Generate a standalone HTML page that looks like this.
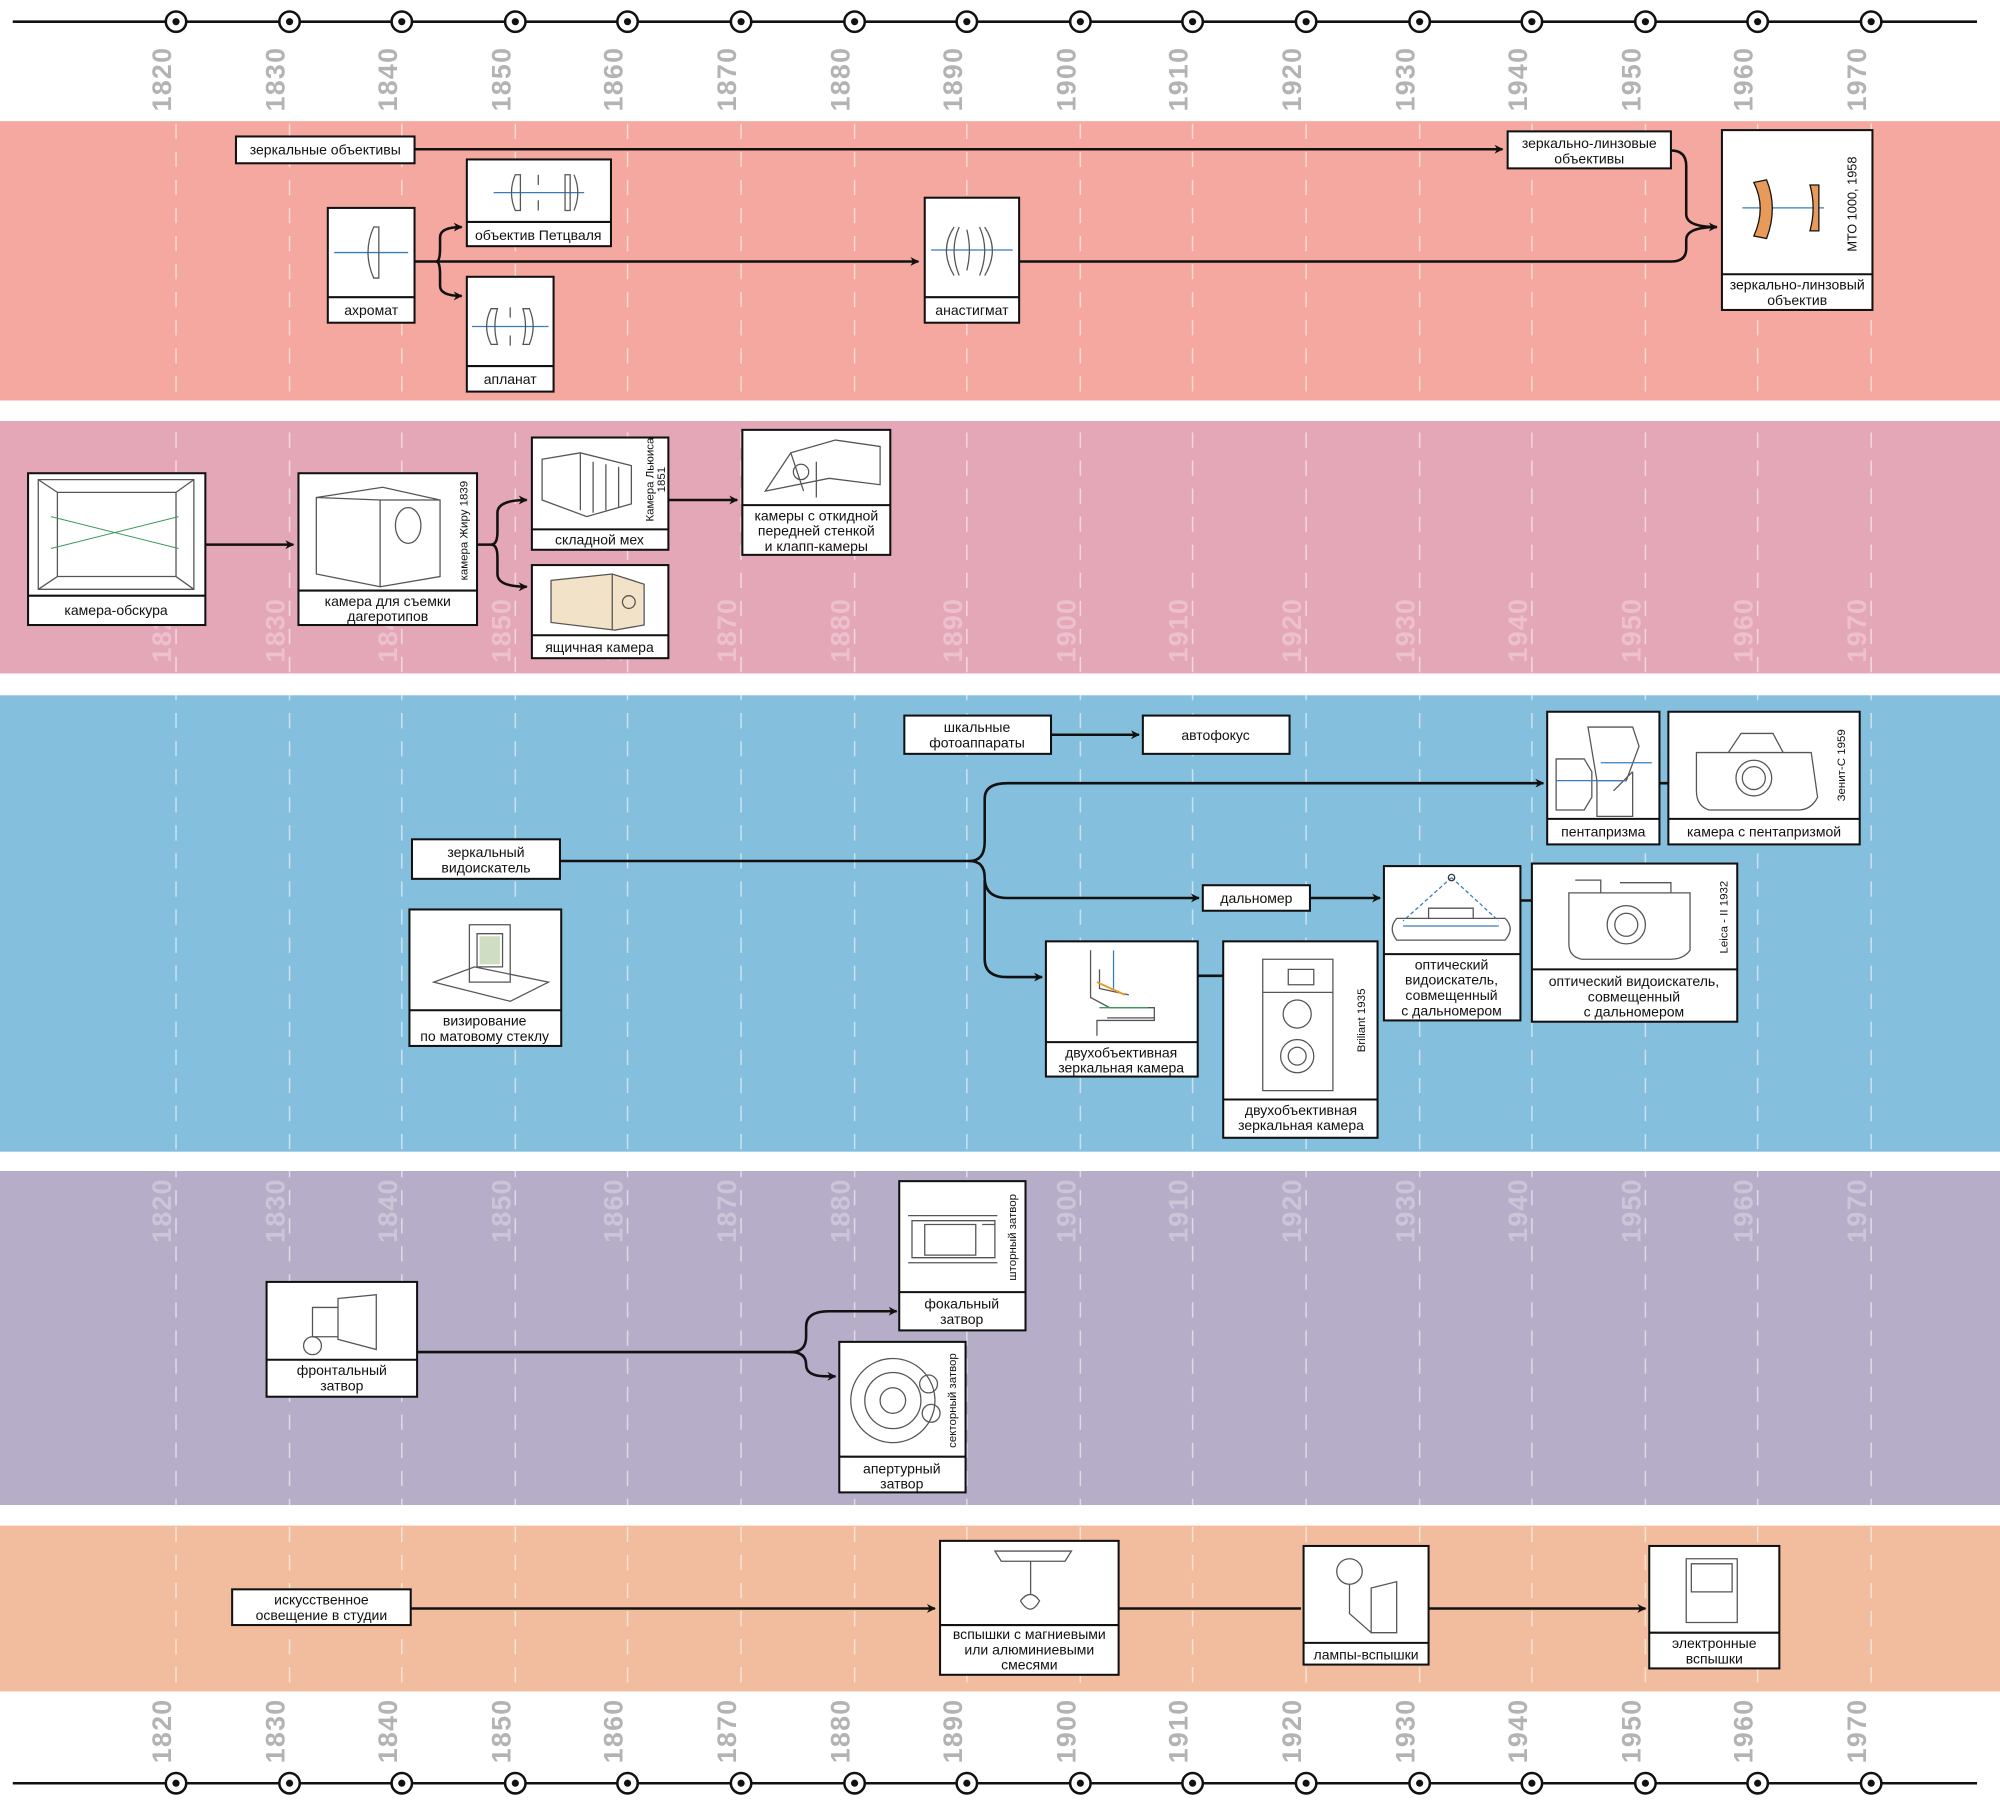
<!DOCTYPE html>
<html><head><meta charset="utf-8"><style>
html,body{margin:0;padding:0;background:#fff}
svg{display:block}
.t{font-family:"Liberation Sans","DejaVu Sans",sans-serif;font-size:11px;fill:#111;text-anchor:middle}
.y{font-family:"Liberation Sans",sans-serif;font-size:21px;font-weight:bold;letter-spacing:1px;text-anchor:middle;dominant-baseline:central}
.g{fill:#b3b3b3}.w{fill:#fff;fill-opacity:.3}
.n{fill:#fff;stroke:#111;stroke-width:1.6}
.l{stroke:#111;stroke-width:1.6;fill:none}
.c{stroke:#111;stroke-width:2;fill:none}
.d{stroke:#555;stroke-width:1;fill:none}
.b{stroke:#3a7bbf;stroke-width:1;fill:none}
.v{font-family:"Liberation Sans",sans-serif;font-size:10px;fill:#111;text-anchor:middle;dominant-baseline:central}
</style></head><body>
<svg width="2000" height="1810" viewBox="0 0 1568 1419" preserveAspectRatio="none" xmlns="http://www.w3.org/2000/svg">
<defs><marker id="a" viewBox="0 0 10 10" refX="9" refY="5" markerWidth="7" markerHeight="7" orient="auto" markerUnits="userSpaceOnUse"><path d="M0,0 L10,5 L0,10 L3,5 z" fill="#111"/></marker></defs>
<!-- bands -->
<rect x="0" y="95" width="1568" height="219" fill="#f4a8a0"/>
<rect x="0" y="330" width="1568" height="198" fill="#e4a7b8"/>
<rect x="0" y="545" width="1568" height="358" fill="#85bfde"/>
<rect x="0" y="918" width="1568" height="262" fill="#b6adc8"/>
<rect x="0" y="1196" width="1568" height="130" fill="#f2bd9e"/>
<g stroke="#fff" stroke-opacity=".55" stroke-width="1.2" stroke-dasharray="12,10">
<line x1="138" y1="97" x2="138" y2="1326"/><line x1="227" y1="97" x2="227" y2="1326"/><line x1="315" y1="97" x2="315" y2="1326"/><line x1="404" y1="97" x2="404" y2="1326"/><line x1="492" y1="97" x2="492" y2="1326"/><line x1="581" y1="97" x2="581" y2="1326"/><line x1="670" y1="97" x2="670" y2="1326"/><line x1="758" y1="97" x2="758" y2="1326"/><line x1="847" y1="97" x2="847" y2="1326"/><line x1="935" y1="97" x2="935" y2="1326"/><line x1="1024" y1="97" x2="1024" y2="1326"/><line x1="1113" y1="97" x2="1113" y2="1326"/><line x1="1201" y1="97" x2="1201" y2="1326"/><line x1="1290" y1="97" x2="1290" y2="1326"/><line x1="1378" y1="97" x2="1378" y2="1326"/><line x1="1467" y1="97" x2="1467" y2="1326"/>
</g>
<rect x="0" y="314" width="1568" height="16" fill="#fff"/>
<rect x="0" y="528" width="1568" height="17" fill="#fff"/>
<rect x="0" y="903" width="1568" height="15" fill="#fff"/>
<rect x="0" y="1180" width="1568" height="16" fill="#fff"/>
<!-- timelines -->
<line x1="10" y1="17" x2="1550" y2="17" stroke="#111" stroke-width="2"/>
<line x1="10" y1="1398" x2="1550" y2="1398" stroke="#111" stroke-width="2"/>
<g fill="#fff" stroke="#111" stroke-width="2">
<circle cx="138" cy="17" r="8"/><circle cx="227" cy="17" r="8"/><circle cx="315" cy="17" r="8"/><circle cx="404" cy="17" r="8"/><circle cx="492" cy="17" r="8"/><circle cx="581" cy="17" r="8"/><circle cx="670" cy="17" r="8"/><circle cx="758" cy="17" r="8"/><circle cx="847" cy="17" r="8"/><circle cx="935" cy="17" r="8"/><circle cx="1024" cy="17" r="8"/><circle cx="1113" cy="17" r="8"/><circle cx="1201" cy="17" r="8"/><circle cx="1290" cy="17" r="8"/><circle cx="1378" cy="17" r="8"/><circle cx="1467" cy="17" r="8"/>
<circle cx="138" cy="1398" r="8"/><circle cx="227" cy="1398" r="8"/><circle cx="315" cy="1398" r="8"/><circle cx="404" cy="1398" r="8"/><circle cx="492" cy="1398" r="8"/><circle cx="581" cy="1398" r="8"/><circle cx="670" cy="1398" r="8"/><circle cx="758" cy="1398" r="8"/><circle cx="847" cy="1398" r="8"/><circle cx="935" cy="1398" r="8"/><circle cx="1024" cy="1398" r="8"/><circle cx="1113" cy="1398" r="8"/><circle cx="1201" cy="1398" r="8"/><circle cx="1290" cy="1398" r="8"/><circle cx="1378" cy="1398" r="8"/><circle cx="1467" cy="1398" r="8"/>
</g>
<g fill="#111">
<circle cx="138" cy="17" r="2.8"/><circle cx="227" cy="17" r="2.8"/><circle cx="315" cy="17" r="2.8"/><circle cx="404" cy="17" r="2.8"/><circle cx="492" cy="17" r="2.8"/><circle cx="581" cy="17" r="2.8"/><circle cx="670" cy="17" r="2.8"/><circle cx="758" cy="17" r="2.8"/><circle cx="847" cy="17" r="2.8"/><circle cx="935" cy="17" r="2.8"/><circle cx="1024" cy="17" r="2.8"/><circle cx="1113" cy="17" r="2.8"/><circle cx="1201" cy="17" r="2.8"/><circle cx="1290" cy="17" r="2.8"/><circle cx="1378" cy="17" r="2.8"/><circle cx="1467" cy="17" r="2.8"/>
<circle cx="138" cy="1398" r="2.8"/><circle cx="227" cy="1398" r="2.8"/><circle cx="315" cy="1398" r="2.8"/><circle cx="404" cy="1398" r="2.8"/><circle cx="492" cy="1398" r="2.8"/><circle cx="581" cy="1398" r="2.8"/><circle cx="670" cy="1398" r="2.8"/><circle cx="758" cy="1398" r="2.8"/><circle cx="847" cy="1398" r="2.8"/><circle cx="935" cy="1398" r="2.8"/><circle cx="1024" cy="1398" r="2.8"/><circle cx="1113" cy="1398" r="2.8"/><circle cx="1201" cy="1398" r="2.8"/><circle cx="1290" cy="1398" r="2.8"/><circle cx="1378" cy="1398" r="2.8"/><circle cx="1467" cy="1398" r="2.8"/>
</g>
<!-- year labels -->
<g class="y g">
<text transform="translate(127,62) rotate(-90)">1820</text><text transform="translate(216,62) rotate(-90)">1830</text><text transform="translate(304,62) rotate(-90)">1840</text><text transform="translate(393,62) rotate(-90)">1850</text><text transform="translate(481,62) rotate(-90)">1860</text><text transform="translate(570,62) rotate(-90)">1870</text><text transform="translate(659,62) rotate(-90)">1880</text><text transform="translate(747,62) rotate(-90)">1890</text><text transform="translate(836,62) rotate(-90)">1900</text><text transform="translate(924,62) rotate(-90)">1910</text><text transform="translate(1013,62) rotate(-90)">1920</text><text transform="translate(1102,62) rotate(-90)">1930</text><text transform="translate(1190,62) rotate(-90)">1940</text><text transform="translate(1279,62) rotate(-90)">1950</text><text transform="translate(1367,62) rotate(-90)">1960</text><text transform="translate(1456,62) rotate(-90)">1970</text>
<text transform="translate(127,1357) rotate(-90)">1820</text><text transform="translate(216,1357) rotate(-90)">1830</text><text transform="translate(304,1357) rotate(-90)">1840</text><text transform="translate(393,1357) rotate(-90)">1850</text><text transform="translate(481,1357) rotate(-90)">1860</text><text transform="translate(570,1357) rotate(-90)">1870</text><text transform="translate(659,1357) rotate(-90)">1880</text><text transform="translate(747,1357) rotate(-90)">1890</text><text transform="translate(836,1357) rotate(-90)">1900</text><text transform="translate(924,1357) rotate(-90)">1910</text><text transform="translate(1013,1357) rotate(-90)">1920</text><text transform="translate(1102,1357) rotate(-90)">1930</text><text transform="translate(1190,1357) rotate(-90)">1940</text><text transform="translate(1279,1357) rotate(-90)">1950</text><text transform="translate(1367,1357) rotate(-90)">1960</text><text transform="translate(1456,1357) rotate(-90)">1970</text>
</g>
<g class="y w">
<text transform="translate(127,494) rotate(-90)">1820</text><text transform="translate(216,494) rotate(-90)">1830</text><text transform="translate(304,494) rotate(-90)">1840</text><text transform="translate(393,494) rotate(-90)">1850</text><text transform="translate(481,494) rotate(-90)">1860</text><text transform="translate(570,494) rotate(-90)">1870</text><text transform="translate(659,494) rotate(-90)">1880</text><text transform="translate(747,494) rotate(-90)">1890</text><text transform="translate(836,494) rotate(-90)">1900</text><text transform="translate(924,494) rotate(-90)">1910</text><text transform="translate(1013,494) rotate(-90)">1920</text><text transform="translate(1102,494) rotate(-90)">1930</text><text transform="translate(1190,494) rotate(-90)">1940</text><text transform="translate(1279,494) rotate(-90)">1950</text><text transform="translate(1367,494) rotate(-90)">1960</text><text transform="translate(1456,494) rotate(-90)">1970</text>
<text transform="translate(127,949) rotate(-90)">1820</text><text transform="translate(216,949) rotate(-90)">1830</text><text transform="translate(304,949) rotate(-90)">1840</text><text transform="translate(393,949) rotate(-90)">1850</text><text transform="translate(481,949) rotate(-90)">1860</text><text transform="translate(570,949) rotate(-90)">1870</text><text transform="translate(659,949) rotate(-90)">1880</text><text transform="translate(747,949) rotate(-90)">1890</text><text transform="translate(836,949) rotate(-90)">1900</text><text transform="translate(924,949) rotate(-90)">1910</text><text transform="translate(1013,949) rotate(-90)">1920</text><text transform="translate(1102,949) rotate(-90)">1930</text><text transform="translate(1190,949) rotate(-90)">1940</text><text transform="translate(1279,949) rotate(-90)">1950</text><text transform="translate(1367,949) rotate(-90)">1960</text><text transform="translate(1456,949) rotate(-90)">1970</text>
</g>

<!-- ===== BAND 1 connectors ===== -->
<path class="c" d="M325,117 H1178" marker-end="url(#a)"/>
<path class="c" d="M1310,118 Q1322,118 1322,130 V168 Q1322,178 1346,178" marker-end="url(#a)"/>
<path class="c" d="M325,205 H720" marker-end="url(#a)"/>
<path class="c" d="M342,205 Q345,205 345,195 V186 Q345,178 362,178" marker-end="url(#a)"/>
<path class="c" d="M342,205 Q345,205 345,215 V224 Q345,232 362,232" marker-end="url(#a)"/>
<path class="c" d="M799,205 H1310 Q1322,205 1322,195 V188 Q1322,178 1346,178"/>
<!-- band 1 nodes -->
<rect class="n" x="185" y="107" width="140" height="21"/><text class="t" x="255" y="121">зеркальные объективы</text>
<rect class="n" x="1182" y="103" width="128" height="29"/><text class="t" x="1246" y="116">зеркально-линзовые</text><text class="t" x="1246" y="128">объективы</text>
<rect class="n" x="257" y="163" width="68" height="90"/><line class="l" x1="257" y1="233" x2="325" y2="233"/><text class="t" x="291" y="247">ахромат</text>
<line class="b" x1="262" y1="198" x2="320" y2="198"/><path class="d" d="M293,178 Q284,198 293,218 H297 V178 Z"/>
<rect class="n" x="366" y="125" width="113" height="68"/><line class="l" x1="366" y1="174" x2="479" y2="174"/><text class="t" x="422" y="188">объектив Петцваля</text>
<line class="b" x1="387" y1="151" x2="458" y2="151"/><path class="d" d="M404,137 Q398,151 404,165 H408 V137 Z M443,137 H447 V165 H443 Z M450,137 Q456,151 450,165"/><line class="d" x1="422" y1="137" x2="422" y2="145"/><line class="d" x1="422" y1="157" x2="422" y2="165"/>
<rect class="n" x="366" y="217" width="68" height="90"/><line class="l" x1="366" y1="287" x2="434" y2="287"/><text class="t" x="400" y="301">апланат</text>
<line class="b" x1="370" y1="256" x2="430" y2="256"/><path class="d" d="M385,242 Q378,256 385,270 H390 Q386,256 390,242 Z M410,242 H415 Q421,256 415,270 H410 Q414,256 410,242 Z"/><line class="d" x1="400" y1="241" x2="400" y2="249"/><line class="d" x1="400" y1="263" x2="400" y2="271"/>
<rect class="n" x="725" y="155" width="74" height="98"/><line class="l" x1="725" y1="233" x2="799" y2="233"/><text class="t" x="762" y="247">анастигмат</text>
<line class="b" x1="730" y1="196" x2="794" y2="196"/><path class="d" d="M748,178 Q736,196 748,216 M752,178 Q744,196 752,216 M772,178 Q784,196 772,216 M768,178 Q776,196 768,216 M758,180 Q762,196 758,212"/>
<rect class="n" x="1350" y="102" width="118" height="141"/><line class="l" x1="1350" y1="215" x2="1468" y2="215"/><text class="t" x="1409" y="227">зеркально-линзовый</text><text class="t" x="1409" y="239">объектив</text>
<line class="b" x1="1366" y1="163" x2="1430" y2="163"/><path d="M1375,143 Q1385,163 1375,185 L1385,187 Q1394,163 1385,141 Z" fill="#e79a5a" stroke="#111"/><path d="M1419,145 Q1424,163 1419,181 L1426,181 V145 Z" fill="#e79a5a" stroke="#111"/>
<text class="v" transform="translate(1452,160) rotate(-90)">МТО 1000, 1958</text>

<!-- ===== BAND 2 ===== -->
<path class="c" d="M161,427 H230" marker-end="url(#a)"/>
<path class="c" d="M374,427 H385 Q390,427 390,417 V402 Q390,392 413,392" marker-end="url(#a)"/>
<path class="c" d="M385,427 Q390,427 390,437 V450 Q390,460 413,460" marker-end="url(#a)"/>
<path class="c" d="M524,392 H578" marker-end="url(#a)"/>
<rect class="n" x="22" y="371" width="139" height="119"/><line class="l" x1="22" y1="467" x2="161" y2="467"/><text class="t" x="91" y="482">камера-обскура</text>
<path class="d" d="M30,376 H152 V462 H30 Z M45,386 H138 V452 H45 Z M30,376 L45,386 M152,376 L138,386 M30,462 L45,452 M152,462 L138,452"/><path d="M40,405 L140,430 M40,430 L140,405" stroke="#3a9a5a" stroke-width="0.8"/>
<rect class="n" x="234" y="371" width="140" height="119"/><line class="l" x1="234" y1="463" x2="374" y2="463"/><text class="t" x="304" y="475">камера для съемки</text><text class="t" x="304" y="487">дагеротипов</text>
<path class="d" d="M248,390 L300,382 L345,392 L345,452 L298,460 L248,450 Z M298,392 V460 M248,390 L298,392 L345,392"/><ellipse class="d" cx="320" cy="412" rx="10" ry="14"/>
<text class="v" style="font-size:9px" transform="translate(364,416) rotate(-90)">камера Жиру 1839</text>
<rect class="n" x="417" y="343" width="107" height="88"/><line class="l" x1="417" y1="415" x2="524" y2="415"/><text class="t" x="470" y="427">складной мех</text>
<path class="d" d="M425,360 L455,355 L495,365 L495,395 L460,405 L425,392 Z M455,355 V400 M465,362 V402 M475,364 V400 M485,366 V398"/>
<text class="v" style="font-size:9px" transform="translate(510,376) rotate(-90)">Камера Льюиса</text><text class="v" style="font-size:9px" transform="translate(519,376) rotate(-90)">1851</text>
<rect class="n" x="417" y="443" width="107" height="73"/><line class="l" x1="417" y1="498" x2="524" y2="498"/><text class="t" x="470" y="511">ящичная камера</text>
<path d="M432,455 L480,450 L505,458 L505,490 L482,494 L432,488 Z" fill="#f2e2c8" stroke="#555"/><path class="d" d="M480,450 V494"/><circle class="d" cx="493" cy="472" r="5"/>
<rect class="n" x="582" y="337" width="116" height="98"/><line class="l" x1="582" y1="396" x2="698" y2="396"/><text class="t" x="640" y="408">камеры с откидной</text><text class="t" x="640" y="420">передней стенкой</text><text class="t" x="640" y="432">и клапп-камеры</text>
<path class="d" d="M600,385 L650,375 L690,380 L690,350 L655,345 L620,355 Z M620,355 L630,385 M640,362 V390"/><circle class="d" cx="628" cy="370" r="6"/>

<!-- ===== BAND 3 ===== -->
<path class="c" d="M824,576 H893" marker-end="url(#a)"/>
<path class="c" d="M439,675 H760 Q772,675 772,660 V626 Q772,614 790,614 H1210" marker-end="url(#a)"/>
<path class="c" d="M760,675 Q772,675 772,688 Q772,704 790,704 H940" marker-end="url(#a)"/>
<path class="c" d="M772,690 V752 Q772,766 790,766 H817" marker-end="url(#a)"/>
<path class="c" d="M1027,704 H1082" marker-end="url(#a)"/>
<path class="c" d="M1301,614 H1308 M1192,706 H1201 M939,765 H959"/>
<rect class="n" x="709" y="561" width="115" height="30"/><text class="t" x="766" y="574">шкальные</text><text class="t" x="766" y="586">фотоаппараты</text>
<rect class="n" x="896" y="561" width="115" height="30"/><text class="t" x="953" y="580">автофокус</text>
<rect class="n" x="323" y="658" width="116" height="31"/><text class="t" x="381" y="672">зеркальный</text><text class="t" x="381" y="684">видоискатель</text>
<rect class="n" x="321" y="713" width="119" height="107"/><line class="l" x1="321" y1="792" x2="440" y2="792"/><text class="t" x="380" y="804">визирование</text><text class="t" x="380" y="816">по матовому стеклу</text>
<path class="d" d="M340,770 L400,785 L430,770 L372,758 Z M368,725 H400 V770 H368 Z M374,732 H394 V758 H374 Z"/><path d="M376,734 H392 V756 H376 Z" fill="#8a6" fill-opacity=".4"/>
<rect class="n" x="1213" y="558" width="88" height="104"/><line class="l" x1="1213" y1="642" x2="1301" y2="642"/><text class="t" x="1257" y="656">пентапризма</text>
<path class="d" d="M1245,570 L1280,570 L1285,585 L1275,612 L1252,612 Z M1220,595 H1242 L1248,605 L1248,625 L1242,635 H1220 Z M1252,612 V640 H1280 V605 M1265,620 L1280,605"/><line class="b" x1="1220" y1="612" x2="1275" y2="612"/><line class="b" x1="1255" y1="598" x2="1295" y2="598"/>
<rect class="n" x="1308" y="558" width="150" height="104"/><line class="l" x1="1308" y1="642" x2="1458" y2="642"/><text class="t" x="1383" y="656">камера с пентапризмой</text>
<path class="d" d="M1330,590 H1420 L1425,625 Q1420,635 1410,635 H1340 Q1330,632 1330,620 Z M1355,590 L1365,575 H1390 L1398,590"/><circle class="d" cx="1375" cy="610" r="14"/><circle class="d" cx="1375" cy="610" r="9"/>
<text class="v" style="font-size:9px" transform="translate(1444,600) rotate(-90)">Зенит-С 1959</text>
<rect class="n" x="943" y="694" width="84" height="20"/><text class="t" x="985" y="708">дальномер</text>
<rect class="n" x="1085" y="679" width="107" height="121"/><line class="l" x1="1085" y1="748" x2="1192" y2="748"/><text class="t" x="1138" y="760">оптический</text><text class="t" x="1138" y="772">видоискатель,</text><text class="t" x="1138" y="784">совмещенный</text><text class="t" x="1138" y="796">с дальномером</text>
<path class="d" d="M1095,720 H1180 Q1188,728 1180,737 H1095 Q1088,728 1095,720 Z M1120,712 H1155 V720 H1120 Z"/><path class="b" d="M1138,688 L1100,722 M1138,688 L1175,722" stroke-dasharray="3,2"/><line class="b" x1="1100" y1="726" x2="1175" y2="726"/><circle cx="1138" cy="688" r="2.5" fill="none" stroke="#333"/>
<rect class="n" x="1201" y="677" width="161" height="124"/><line class="l" x1="1201" y1="760" x2="1362" y2="760"/><text class="t" x="1281" y="773">оптический видоискатель,</text><text class="t" x="1281" y="785">совмещенный</text><text class="t" x="1281" y="797">с дальномером</text>
<path class="d" d="M1230,700 H1325 V745 Q1320,752 1310,752 H1240 Q1230,750 1230,740 Z M1235,690 H1255 V700 M1270,692 H1310 V700"/><circle class="d" cx="1275" cy="725" r="15"/><circle class="d" cx="1275" cy="725" r="9"/>
<text class="v" style="font-size:9px" transform="translate(1352,719) rotate(-90)">Leica - II 1932</text>
<rect class="n" x="820" y="738" width="119" height="106"/><line class="l" x1="820" y1="817" x2="939" y2="817"/><text class="t" x="879" y="829">двухобъективная</text><text class="t" x="879" y="841">зеркальная камера</text>
<path class="d" d="M855,745 V782 L870,790 H905 V800 H860 V812 M862,760 V775 L885,780 M868,798 H905"/><path d="M860,770 L882,780" stroke="#e79a2a" stroke-width="1.5"/><line x1="873" y1="745" x2="873" y2="775" stroke="#3a7bbf"/><line x1="862" y1="790" x2="900" y2="790" stroke="#3a9a5a"/>
<rect class="n" x="959" y="738" width="121" height="154"/><line class="l" x1="959" y1="862" x2="1080" y2="862"/><text class="t" x="1020" y="874">двухобъективная</text><text class="t" x="1020" y="886">зеркальная камера</text>
<path class="d" d="M990,752 H1045 V855 H990 Z M990,778 H1045 M1010,760 H1030 V772 H1010 Z"/><circle class="d" cx="1017" cy="795" r="11"/><circle class="d" cx="1017" cy="828" r="13"/><circle class="d" cx="1017" cy="828" r="7"/>
<text class="v" style="font-size:9px" transform="translate(1068,800) rotate(-90)">Briliant 1935</text>

<!-- ===== BAND 4 ===== -->
<path class="c" d="M327,1060 H620 Q632,1060 632,1048 V1040 Q632,1028 650,1028 H703" marker-end="url(#a)"/>
<path class="c" d="M620,1060 Q632,1060 632,1070 Q632,1079 648,1079 H655" marker-end="url(#a)"/>
<rect class="n" x="209" y="1005" width="118" height="90"/><line class="l" x1="209" y1="1066" x2="327" y2="1066"/><text class="t" x="268" y="1078">фронтальный</text><text class="t" x="268" y="1090">затвор</text>
<path class="d" d="M245,1025 H265 V1048 H245 Z M265,1018 L295,1015 L295,1058 L265,1050 Z"/><circle class="d" cx="245" cy="1055" r="7"/>
<rect class="n" x="705" y="926" width="99" height="117"/><line class="l" x1="705" y1="1013" x2="804" y2="1013"/><text class="t" x="754" y="1026">фокальный</text><text class="t" x="754" y="1038">затвор</text>
<path class="d" d="M712,953 H782 M712,990 H782 M715,957 H780 V986 H715 Z M725,960 H765 V984 H725 Z M770,960 H780 V986"/>
<text class="v" style="font-size:9px" transform="translate(794,970) rotate(-90)">шторный затвор</text>
<rect class="n" x="658" y="1052" width="99" height="118"/><line class="l" x1="658" y1="1142" x2="757" y2="1142"/><text class="t" x="707" y="1155">апертурный</text><text class="t" x="707" y="1167">затвор</text>
<circle class="d" cx="700" cy="1098" r="33"/><circle class="d" cx="700" cy="1098" r="22"/><circle class="d" cx="700" cy="1098" r="10"/><circle class="d" cx="728" cy="1085" r="7"/><circle class="d" cx="730" cy="1108" r="7"/>
<text class="v" style="font-size:9px" transform="translate(747,1098) rotate(-90)">секторный затвор</text>

<!-- ===== BAND 5 ===== -->
<path class="c" d="M322,1261 H733" marker-end="url(#a)"/>
<path class="c" d="M877,1261 H1020"/>
<path class="c" d="M1120,1261 H1290" marker-end="url(#a)"/>
<rect class="n" x="182" y="1246" width="140" height="28"/><text class="t" x="252" y="1258">искусственное</text><text class="t" x="252" y="1270">освещение в студии</text>
<rect class="n" x="737" y="1208" width="140" height="105"/><line class="l" x1="737" y1="1274" x2="877" y2="1274"/><text class="t" x="807" y="1285">вспышки с магниевыми</text><text class="t" x="807" y="1297">или алюминиевыми</text><text class="t" x="807" y="1309">смесями</text>
<path class="d" d="M780,1216 H840 L835,1224 H785 Z M808,1224 V1250 M800,1255 Q808,1245 815,1255 Q808,1268 800,1255"/>
<rect class="n" x="1022" y="1212" width="98" height="93"/><line class="l" x1="1022" y1="1288" x2="1120" y2="1288"/><text class="t" x="1071" y="1301">лампы-вспышки</text>
<circle class="d" cx="1058" cy="1232" r="10"/><path class="d" d="M1058,1242 V1265 L1075,1280 M1075,1245 L1095,1240 V1280 H1075 Z"/>
<rect class="n" x="1293" y="1212" width="102" height="96"/><line class="l" x1="1293" y1="1280" x2="1395" y2="1280"/><text class="t" x="1344" y="1292">электронные</text><text class="t" x="1344" y="1304">вспышки</text>
<path class="d" d="M1322,1222 H1362 V1272 H1322 Z M1326,1226 H1358 V1248 H1326 Z"/>
</svg>
</body></html>
